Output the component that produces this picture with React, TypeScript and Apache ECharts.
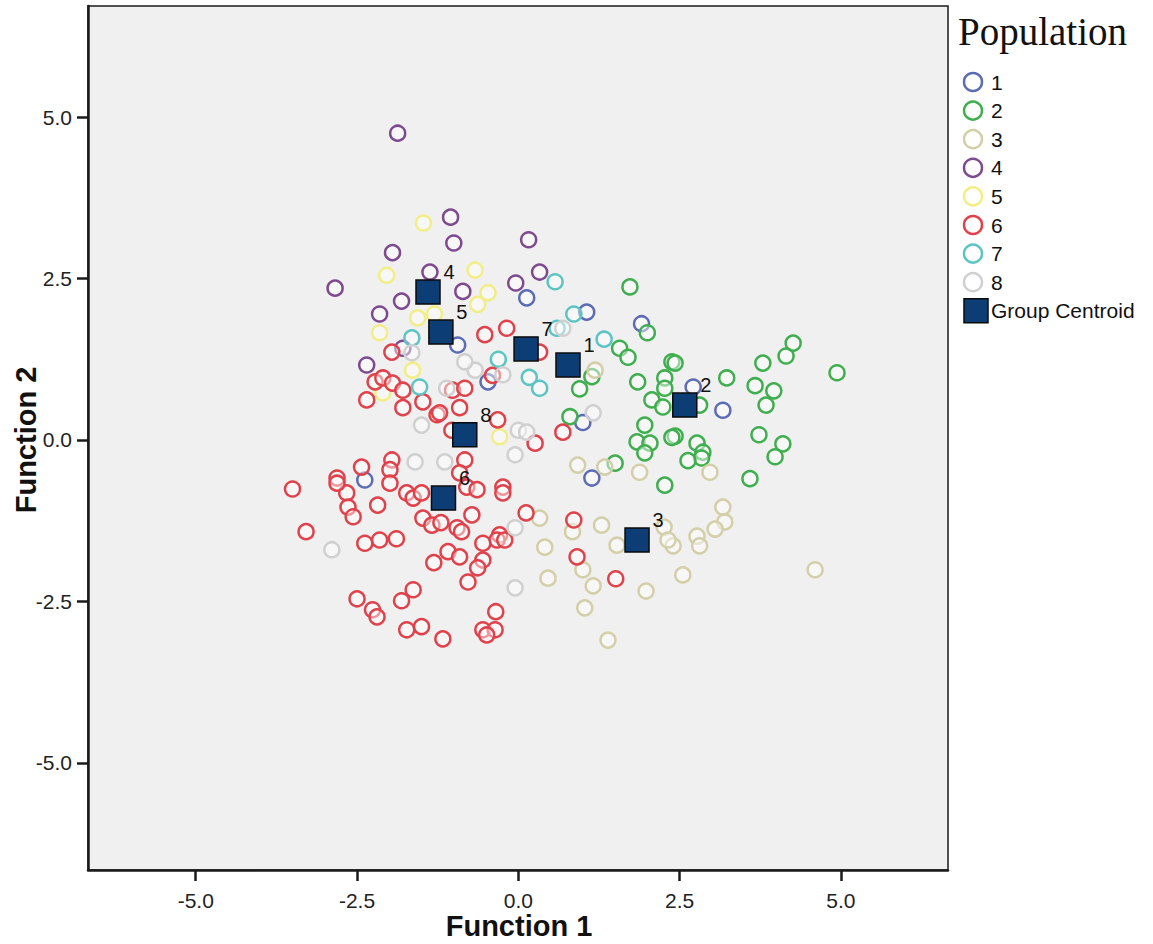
import React, { useEffect, useRef } from "react";
import * as echarts from "echarts";

type P = [number, number];

const groupNames = ["1", "2", "3", "4", "5", "6", "7", "8"];
const groupColors = ["#5c6bb4", "#3fae4f", "#d3cfa8", "#7e4a8f", "#f2ee86", "#e0414a", "#5cc5c3", "#d0d0d0"];

const g1: P[] = [
  [1.06, 1.98], [0.13, 2.2], [1.91, 1.8], [-0.94, 1.47], [-0.47, 0.9], [1.0, 0.27],
  [1.14, -0.59], [2.71, 0.82], [3.17, 0.46], [-2.38, -0.62],
];
const g2: P[] = [
  [1.73, 2.37], [2.0, 1.66], [1.57, 1.42], [1.7, 1.28], [2.38, 1.21], [2.43, 1.19],
  [1.14, 0.98], [0.95, 0.79], [1.85, 0.9], [2.27, 0.96], [2.27, 0.8], [2.07, 0.62],
  [2.24, 0.51], [2.81, 0.54], [0.8, 0.36], [1.96, 0.23], [2.43, 0.06], [2.38, 0.04],
  [1.84, -0.03], [2.04, -0.05], [1.96, -0.2], [1.5, -0.36], [2.27, -0.7], [2.77, -0.05],
  [2.86, -0.19], [2.84, -0.28], [2.63, -0.32], [3.23, 0.96], [3.79, 1.19], [4.15, 1.3],
  [4.26, 1.5], [4.94, 1.04], [3.67, 0.84], [3.96, 0.76], [3.84, 0.54], [3.73, 0.08],
  [4.1, -0.06], [3.98, -0.26], [3.59, -0.6],
];
const g3: P[] = [
  [0.33, -1.21], [1.29, -1.32], [1.53, -1.63], [0.84, -1.42], [0.41, -1.66], [1.0, -2.01],
  [0.46, -2.14], [1.16, -2.26], [1.03, -2.6], [1.98, -2.34], [1.39, -3.1], [3.17, -1.04],
  [3.2, -1.27], [3.05, -1.38], [2.77, -1.49], [2.81, -1.64], [2.4, -1.64], [2.55, -2.09],
  [4.6, -2.01], [2.26, -1.35], [2.32, -1.55], [1.34, -0.42], [0.92, -0.39], [1.88, -0.5],
  [2.97, -0.5], [1.19, 1.08],
];
const g4: P[] = [
  [-1.87, 4.75], [-1.05, 3.45], [-1.0, 3.05], [0.16, 3.1], [-1.95, 2.9], [-2.84, 2.35],
  [-1.37, 2.6], [0.33, 2.6], [-0.04, 2.43], [-0.86, 2.3], [-1.81, 2.15], [-2.15, 1.95],
  [-1.79, 1.42], [-2.35, 1.16],
];
const g5: P[] = [
  [-1.47, 3.36], [-0.67, 2.63], [-2.04, 2.55], [-0.47, 2.28], [-0.63, 2.1], [-1.56, 1.89],
  [-2.15, 1.66], [-1.64, 1.08], [-2.1, 0.73], [-0.29, 0.05], [-1.3, 1.95],
];
const g6: P[] = [
  [-0.52, 1.63], [-0.18, 1.73], [0.33, 1.36], [-0.4, 1.0], [-0.32, 0.31], [0.26, -0.05], [0.69, 0.12],
  [-1.96, 1.36], [-2.22, 0.9], [-2.1, 0.96], [-1.95, 0.88], [-1.79, 0.77], [-2.35, 0.62], [-1.79, 0.5],
  [-1.48, 0.59], [-1.26, 0.39], [-1.22, 0.42], [-1.02, 0.77], [-0.83, 0.8], [-0.91, 0.5], [-1.03, 0.15],
  [-0.83, -0.31], [-1.96, -0.31], [-1.99, -0.46], [-2.43, -0.42], [-2.81, -0.59], [-0.91, -0.51],
  [-1.73, -0.82], [-1.63, -0.9], [-1.5, -0.82], [-1.48, -1.21], [-1.34, -1.32], [-1.2, -1.28],
  [-0.95, -1.36], [-0.88, -1.42], [-0.8, -0.73], [-1.09, -1.73], [-0.91, -1.81], [-1.31, -1.9],
  [-0.78, -2.2], [-2.18, -1.01], [-1.99, -0.67], [-2.66, -0.82], [-2.64, -1.04], [-2.56, -1.19],
  [-2.81, -0.67], [-3.5, -0.76], [-3.29, -1.42], [-2.38, -1.6], [-2.15, -1.55], [-1.89, -1.53],
  [-2.5, -2.46], [-2.26, -2.63], [-2.19, -2.74], [-1.81, -2.49], [-1.63, -2.32], [-1.73, -2.94],
  [-1.5, -2.89], [-1.17, -3.08], [-0.64, -0.77], [-0.24, -0.73], [-0.24, -0.82], [-0.72, -1.16],
  [0.12, -1.13], [-0.29, -1.47], [-0.33, -1.55], [-0.21, -1.55], [-0.55, -1.6], [-0.55, -1.86],
  [-0.63, -1.98], [-0.35, -2.66], [-0.55, -2.94], [-0.36, -2.94], [-0.49, -3.02], [0.86, -1.24],
  [0.91, -1.81], [1.51, -2.15],
];
const g7: P[] = [
  [0.57, 2.45], [0.86, 1.95], [0.6, 1.73], [1.33, 1.56], [-1.65, 1.58], [-0.31, 1.25],
  [0.17, 0.97], [0.33, 0.8], [-1.53, 0.82],
];
const g8: P[] = [
  [0.69, 1.73], [-0.67, 1.08], [-0.24, 1.01], [1.16, 0.42], [0.0, 0.15], [0.13, 0.12],
  [-0.05, -0.23], [-0.83, 1.21], [-1.11, 0.8], [-1.65, 1.35], [-1.5, 0.23], [-1.6, -0.34],
  [-1.14, -0.34], [-2.89, -1.7], [-0.05, -1.36], [-0.05, -2.29],
];
const groups: P[][] = [g1, g2, g3, g4, g5, g6, g7, g8];

const centroids: P[] = [
  [0.77, 1.16], [2.58, 0.54], [1.84, -1.55], [-1.4, 2.29],
  [-1.2, 1.67], [-1.16, -0.9], [0.12, 1.41], [-0.83, 0.08],
];
const centroidLabels = ["1", "2", "3", "4", "5", "6", "7", "8"];

const tickValues = [-5, -2.5, 0, 2.5, 5];

const FONT = "'Liberation Sans', Arial, sans-serif";

export default function App() {
  const ref = useRef<HTMLDivElement>(null);

  useEffect(() => {
    document.body.style.margin = "0";
    if (!ref.current) return;
    const chart = echarts.init(ref.current, null, { renderer: "svg" });

    const scatterSeries = groups.map((data, i) => ({
      name: groupNames[i],
      type: "scatter",
      data,
      symbol: "circle",
      symbolSize: 15,
      itemStyle: {
        color: "rgba(255,255,255,0.45)",
        borderColor: groupColors[i],
        borderWidth: 2.5,
        opacity: 1,
      },
      emphasis: { disabled: true },
      z: 2,
    }));

    const legendTop = 82;
    const legendGap = 28.6;
    const g: any[] = [
      {
        type: "text",
        left: 958,
        top: 12,
        style: {
          text: "Population",
          font: "39px 'Liberation Serif', 'Times New Roman', serif",
          fill: "#111",
        },
      },
    ];
    groupNames.forEach((n, i) => {
      const cy = legendTop + i * legendGap;
      g.push({
        type: "circle",
        shape: { cx: 973, cy, r: 9 },
        style: { fill: "rgba(255,255,255,0.45)", stroke: groupColors[i], lineWidth: 2.5 },
      });
      g.push({
        type: "text",
        x: 991,
        y: cy,
        style: { text: n, font: `21px ${FONT}`, fill: "#111", verticalAlign: "middle" },
      });
    });
    const gcY = legendTop + 8 * legendGap;
    g.push({
      type: "rect",
      shape: { x: 964, y: gcY - 12, width: 24, height: 24 },
      style: { fill: "#0d3d75", stroke: "#0a0a0a", lineWidth: 1.5 },
    });
    g.push({
      type: "text",
      x: 991,
      y: gcY,
      style: { text: "Group Centroid", font: `21px ${FONT}`, fill: "#111", verticalAlign: "middle" },
    });
    g.push({
      type: "text",
      x: 519,
      y: 926,
      style: {
        text: "Function 1",
        font: `bold 29px ${FONT}`,
        fill: "#111",
        align: "center",
        verticalAlign: "middle",
      },
    });
    g.push({
      type: "text",
      x: 26,
      y: 440,
      rotation: Math.PI / 2,
      style: {
        text: "Function 2",
        font: `bold 29px ${FONT}`,
        fill: "#111",
        align: "center",
        verticalAlign: "middle",
      },
    });

    const axisCommon = {
      type: "value",
      splitLine: { show: false },
      axisLine: { show: true, onZero: false, lineStyle: { color: "#1a1a1a", width: 2.5 } },
      axisTick: {
        show: true,
        inside: false,
        length: 11,
        customValues: tickValues,
        lineStyle: { color: "#1a1a1a", width: 2.5 },
      },
      axisLabel: {
        show: true,
        customValues: tickValues,
        fontSize: 21,
        fontFamily: FONT,
        color: "#222",
        formatter: (v: number) => v.toFixed(1),
      },
    };

    chart.setOption({
      animation: false,
      backgroundColor: "#ffffff",
      grid: {
        left: 88,
        top: 6,
        width: 860,
        height: 864,
        show: true,
        backgroundColor: "#f0f0f0",
        borderColor: "#1a1a1a",
        borderWidth: 1.5,
        containLabel: false,
        outerBoundsMode: "none",
      },
      xAxis: {
        ...axisCommon,
        min: -6.67,
        max: 6.66,
        axisLabel: { ...axisCommon.axisLabel, margin: 20 },
      },
      yAxis: {
        ...axisCommon,
        min: -6.66,
        max: 6.72,
        axisLabel: { ...axisCommon.axisLabel, margin: 16 },
      },
      tooltip: { show: false },
      graphic: g,
      series: [
        ...scatterSeries,
        {
          name: "Group Centroid",
          type: "scatter",
          data: centroids,
          symbol: "rect",
          symbolSize: 24,
          itemStyle: { color: "#0d3d75", borderColor: "#0a0a0a", borderWidth: 1.5, opacity: 1 },
          label: {
            show: true,
            formatter: (p: any) => centroidLabels[p.dataIndex],
            position: "top",
            distance: 0,
            offset: [21, 3],
            fontSize: 20,
            fontFamily: FONT,
            color: "#111",
          },
          emphasis: { disabled: true },
          z: 5,
        },
      ],
    });

    return () => chart.dispose();
  }, []);

  return <div ref={ref} style={{ width: 1153, height: 944, background: "#fff" }} />;
}
